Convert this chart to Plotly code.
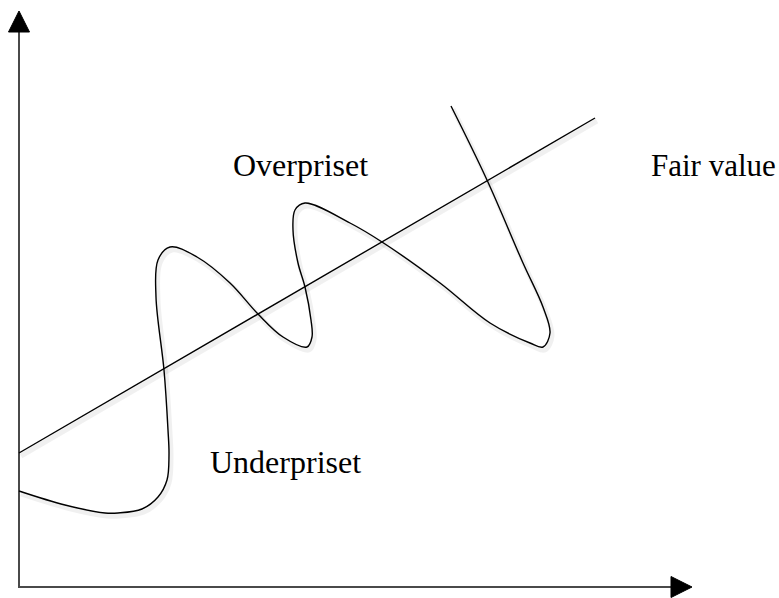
import plotly.graph_objects as go

# Diagram coordinates: origin at the axes crossing, 1 unit ~ 1 px
curve_x = [0, 46, 86, 99, 123, 139, 148, 150, 149, 145, 137, 139, 151, 178, 211, 239, 264, 288,
           293, 292, 286, 279, 274, 276, 286, 331, 363, 421, 471, 511, 524, 531, 524, 504, 468, 432]
curve_y = [96, 82, 74, 74, 78, 90, 107, 132, 157, 217, 290, 327, 340, 330, 304, 273, 250, 240,
           250, 267, 300, 324, 357, 377, 384, 364, 345, 304, 264, 244, 240, 254, 280, 324, 407, 481]

fair_x = [0, 576]
fair_y = [134, 469]

labels = ["Overpriset", "Fair value", "Underpriset"]

x_axis_end = 652
x_arrow_tip = 673
y_axis_end = 555
y_arrow_tip = 576
arrow_half = 10.5

fig = go.Figure()

# axes
fig.add_trace(go.Scatter(x=[0, 0, x_axis_end], y=[y_axis_end, 0, 0], mode="lines",
                         line=dict(color="#4a4a4a", width=2), hoverinfo="skip"))
fig.add_trace(go.Scatter(x=[-arrow_half, arrow_half, 0, -arrow_half],
                         y=[y_axis_end, y_axis_end, y_arrow_tip, y_axis_end],
                         mode="lines", fill="toself", fillcolor="black",
                         line=dict(color="black", width=1), hoverinfo="skip"))
fig.add_trace(go.Scatter(x=[x_axis_end, x_axis_end, x_arrow_tip, x_axis_end],
                         y=[-arrow_half, arrow_half, 0, -arrow_half],
                         mode="lines", fill="toself", fillcolor="black",
                         line=dict(color="black", width=1), hoverinfo="skip"))

# soft shadows
fig.add_trace(go.Scatter(x=[v + 2 for v in fair_x], y=[v - 3 for v in fair_y], mode="lines",
                         line=dict(color="rgba(0,0,0,0.06)", width=5), hoverinfo="skip"))
fig.add_trace(go.Scatter(x=[v + 2 for v in curve_x], y=[v - 3 for v in curve_y], mode="lines",
                         line=dict(color="rgba(0,0,0,0.06)", width=5, shape="spline"),
                         hoverinfo="skip"))

# fair value line
fig.add_trace(go.Scatter(x=fair_x, y=fair_y, mode="lines",
                         line=dict(color="black", width=1.4), hoverinfo="skip"))
# price curve
fig.add_trace(go.Scatter(x=curve_x, y=curve_y, mode="lines",
                         line=dict(color="black", width=1.4, shape="spline", smoothing=1),
                         hoverinfo="skip"))

family = "Liberation Serif, Times New Roman, serif"
label_pos = [(212, 422), (630, 422), (189, 125)]
label_size = [32, 31, 32]
for txt, (lx, ly), sz in zip(labels, label_pos, label_size):
    fig.add_annotation(x=lx, y=ly, text=txt, showarrow=False, xanchor="left",
                       yanchor="middle", font=dict(family=family, size=sz, color="black"))

fig.update_layout(
    width=779, height=598,
    margin=dict(l=0, r=0, t=0, b=0),
    paper_bgcolor="white", plot_bgcolor="white",
    showlegend=False,
    xaxis=dict(range=[-19, 760], visible=False, fixedrange=True),
    yaxis=dict(range=[-11, 587], visible=False, fixedrange=True),
)

fig.write_html("out.html", config={"displayModeBar": False},
               post_script="document.body.style.margin='0';document.body.style.overflow='hidden';")
